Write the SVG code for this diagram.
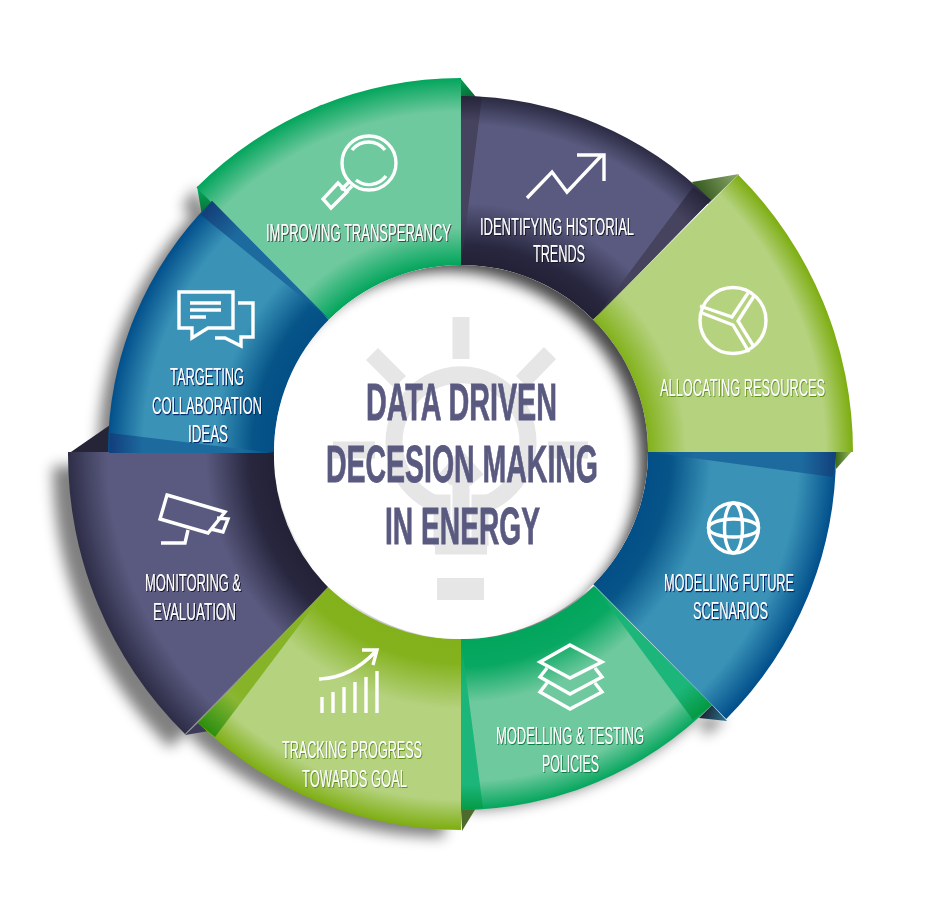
<svg xmlns="http://www.w3.org/2000/svg" width="929" height="920" viewBox="0 0 929 920">
<style>
.lb{font-family:"Liberation Sans Narrow","Liberation Sans",Arial,sans-serif;font-size:23.5px;fill:#fff}
.tt{font-family:"Liberation Sans Narrow","Liberation Sans",Arial,sans-serif;font-size:52px;font-weight:700;fill:#5a5a80;stroke:#5a5a80;stroke-width:.8}
.ic{fill:none;stroke:#fff;stroke-width:3.4;stroke-linejoin:miter}
.bulb{fill:none;stroke:#e6e6e6;stroke-width:17}
</style>
<defs>
<filter id="blur" x="-30%" y="-30%" width="160%" height="160%"><feGaussianBlur stdDeviation="7"/></filter>
<filter id="blur2" x="-30%" y="-30%" width="160%" height="160%"><feGaussianBlur stdDeviation="7"/></filter>
<filter id="sd" x="-15%" y="-30%" width="130%" height="160%"><feDropShadow dx="1" dy="1" stdDeviation=".3" flood-color="#14142a"/></filter>
<filter id="sb" x="-15%" y="-30%" width="130%" height="160%"><feDropShadow dx="1" dy="1.2" stdDeviation=".3" flood-color="#00256a"/></filter>
<filter id="sg" x="-15%" y="-30%" width="130%" height="160%"><feDropShadow dx=".8" dy="1" stdDeviation=".3" flood-color="#0b7a45"/></filter>
<filter id="sl" x="-15%" y="-30%" width="130%" height="160%"><feDropShadow dx=".8" dy="1" stdDeviation=".3" flood-color="#62901a"/></filter>
<filter id="sm" x="-15%" y="-30%" width="130%" height="160%"><feDropShadow dx="1" dy="1" stdDeviation=".3" flood-color="#3c4a44"/></filter>
<clipPath id="cc"><circle cx="461" cy="452" r="187"/></clipPath>
<radialGradient id="g1" gradientUnits="userSpaceOnUse" cx="461" cy="452" r="374"><stop offset=".5" stop-color="#02a55c"/><stop offset=".6" stop-color="#6fc99e"/><stop offset=".91" stop-color="#6fc99e"/><stop offset="1" stop-color="#02a55c"/></radialGradient>
<radialGradient id="g5" gradientUnits="userSpaceOnUse" cx="461" cy="452" r="358"><stop offset=".52" stop-color="#02a55c"/><stop offset=".6" stop-color="#08a862"/><stop offset=".7" stop-color="#6fc99e"/><stop offset=".92" stop-color="#6fc99e"/><stop offset="1" stop-color="#02a55c"/></radialGradient>
<radialGradient id="g2" gradientUnits="userSpaceOnUse" cx="461" cy="452" r="356"><stop offset=".525" stop-color="#222136"/><stop offset=".58" stop-color="#28273f"/><stop offset=".7" stop-color="#5a5a80"/><stop offset=".92" stop-color="#5a5a80"/><stop offset="1" stop-color="#2a2a42"/></radialGradient>
<radialGradient id="g7" gradientUnits="userSpaceOnUse" cx="461" cy="452" r="393"><stop offset=".475" stop-color="#222136"/><stop offset=".54" stop-color="#28273f"/><stop offset=".65" stop-color="#5a5a80"/><stop offset=".9" stop-color="#5a5a80"/><stop offset="1" stop-color="#2e2e48"/></radialGradient>
<radialGradient id="g3" gradientUnits="userSpaceOnUse" cx="461" cy="452" r="392"><stop offset=".477" stop-color="#82b11b"/><stop offset=".575" stop-color="#b5d27f"/><stop offset=".93" stop-color="#b5d27f"/><stop offset="1" stop-color="#7dad10"/></radialGradient>
<radialGradient id="g6" gradientUnits="userSpaceOnUse" cx="461" cy="452" r="378"><stop offset=".5" stop-color="#82b11b"/><stop offset=".56" stop-color="#84b21e"/><stop offset=".68" stop-color="#b5d27f"/><stop offset=".92" stop-color="#b5d27f"/><stop offset="1" stop-color="#7dad10"/></radialGradient>
<radialGradient id="g4" gradientUnits="userSpaceOnUse" cx="461" cy="452" r="375"><stop offset=".5" stop-color="#034f87"/><stop offset=".56" stop-color="#065488"/><stop offset=".67" stop-color="#3a93b7"/><stop offset=".9" stop-color="#3a93b7"/><stop offset="1" stop-color="#02508c"/></radialGradient>
<radialGradient id="g8" gradientUnits="userSpaceOnUse" cx="461" cy="452" r="353"><stop offset=".53" stop-color="#034f87"/><stop offset=".59" stop-color="#065488"/><stop offset=".7" stop-color="#3a93b7"/><stop offset=".9" stop-color="#3a93b7"/><stop offset="1" stop-color="#02508c"/></radialGradient>
<linearGradient id="b6" gradientUnits="userSpaceOnUse" x1="205" y1="729" x2="240" y2="690"><stop offset="0" stop-color="#2b8e10"/><stop offset=".8" stop-color="#8ab634"/><stop offset="1" stop-color="#86b327"/></linearGradient>
<linearGradient id="b4" gradientUnits="userSpaceOnUse" x1="648" y1="0" x2="836" y2="0"><stop offset="0" stop-color="#034f87"/><stop offset=".25" stop-color="#1c6a9e"/><stop offset=".82" stop-color="#1c6a9e"/><stop offset="1" stop-color="#123f7c"/></linearGradient>
<linearGradient id="b8a" gradientUnits="userSpaceOnUse" x1="110" y1="0" x2="275" y2="0"><stop offset="0" stop-color="#123f7c"/><stop offset=".2" stop-color="#1c6a9e"/><stop offset=".8" stop-color="#1c6a9e"/><stop offset="1" stop-color="#034f87"/></linearGradient>
<linearGradient id="b8b" gradientUnits="userSpaceOnUse" x1="207" y1="207" x2="328" y2="318"><stop offset="0" stop-color="#143e78"/><stop offset=".25" stop-color="#1c6a9e"/><stop offset=".75" stop-color="#1c6a9e"/><stop offset="1" stop-color="#034f87"/></linearGradient>
<linearGradient id="b5" gradientUnits="userSpaceOnUse" x1="595" y1="586" x2="705" y2="712"><stop offset="0" stop-color="#02a55c"/><stop offset=".3" stop-color="#1cb67a"/><stop offset=".8" stop-color="#1cb67a"/><stop offset="1" stop-color="#03973f"/></linearGradient>
<linearGradient id="b5b" gradientUnits="userSpaceOnUse" x1="0" y1="639" x2="0" y2="810"><stop offset="0" stop-color="#02a55c"/><stop offset=".3" stop-color="#1cb67a"/><stop offset=".85" stop-color="#1cb67a"/><stop offset="1" stop-color="#049a45"/></linearGradient>
<linearGradient id="b2" gradientUnits="userSpaceOnUse" x1="594" y1="320" x2="703" y2="194"><stop offset="0" stop-color="#242338"/><stop offset=".3" stop-color="#46435f"/><stop offset=".8" stop-color="#46435f"/><stop offset="1" stop-color="#25243a"/></linearGradient>
<linearGradient id="b2b" gradientUnits="userSpaceOnUse" x1="0" y1="265" x2="0" y2="96"><stop offset="0" stop-color="#242338"/><stop offset=".3" stop-color="#46435f"/><stop offset=".85" stop-color="#46435f"/><stop offset="1" stop-color="#25243a"/></linearGradient>
<linearGradient id="f1" gradientUnits="userSpaceOnUse" x1="700" y1="196" x2="738" y2="174"><stop offset="0" stop-color="#35591f"/><stop offset="1" stop-color="#8ba86a"/></linearGradient>
<linearGradient id="f2" gradientUnits="userSpaceOnUse" x1="205" y1="190" x2="205" y2="214"><stop offset="0" stop-color="#02a55c"/><stop offset="1" stop-color="#0c6d30"/></linearGradient>
<linearGradient id="f3" gradientUnits="userSpaceOnUse" x1="836" y1="452" x2="850" y2="452"><stop offset="0" stop-color="#3f6b1d"/><stop offset="1" stop-color="#8aae55"/></linearGradient>
<linearGradient id="f4" gradientUnits="userSpaceOnUse" x1="705" y1="712" x2="725" y2="720"><stop offset="0" stop-color="#1c2c3a"/><stop offset="1" stop-color="#2c6f8e"/></linearGradient>
<linearGradient id="f5" gradientUnits="userSpaceOnUse" x1="462" y1="82" x2="470" y2="96"><stop offset="0" stop-color="#049a4e"/><stop offset="1" stop-color="#0a6e3a"/></linearGradient>
</defs>

<g id="shadows" filter="url(#blur)" fill="#000" opacity=".5">
<path transform="translate(-15,14)" d="M68,452 A393,393 0 0 0 185,734 L328,587 L274,452 Z"/>
<path transform="translate(-11,11)" d="M455,826 A378,378 0 0 1 198,723 L328,587 L461,639 Z"/>
<path transform="translate(-3,6)" d="M700,712 A358,358 0 0 1 470,804 L461,639 L593,584 Z"/>
<path transform="translate(-10,4)" d="M212,201 A353,353 0 0 0 108,452 L274,452 L329,320 Z"/>
<path d="M197,187 L182,207 L212,232 Z"/>
<path d="M700,717 L726,718 L705,736 Z"/>
</g>

<g id="folds">
<polygon points="461,79 476,97 461,97" fill="url(#f5)"/>
<polygon points="692,182 739,174 708,204" fill="url(#f1)"/>
<polygon points="835,450 853,450 836,469" fill="url(#f3)"/>
<polygon points="699,718 712,705 727,721" fill="url(#f4)"/>
<polygon points="461,808 476,808 462,831" fill="#4e6b2e"/>
<polygon points="185,735 200,721 209,731" fill="#3c3a58"/>
<polygon points="68,454 110,425 112,454" fill="#262538"/>
<polygon points="197,186 214,203 202,216" fill="url(#f2)"/>
</g>

<g id="seg-improving"><path d="M461,78 A374,374 0 0 0 196.500,187.500 L328.800,319.800 A187,187 0 0 1 461,265 Z" fill="url(#g1)"/></g>
<g id="seg-identifying">
<path d="M461,96 A356,356 0 0 1 711,200.300 L593.200,319.800 A187,187 0 0 0 461,265 Z" fill="url(#g2)"/>
<polygon points="461,265 482,97 461,96" fill="url(#b2b)"/>
<polygon points="594,320 693,187 711,200" fill="url(#b2)"/>
</g>
<g id="seg-allocating"><path d="M738.200,174.800 A392,392 0 0 1 853,452 L648,452 A187,187 0 0 0 593.200,319.800 Z" fill="url(#g3)"/></g>
<g id="seg-future">
<path d="M836,452 A375,375 0 0 1 726.200,719 L593.200,584.200 A187,187 0 0 0 648,452 Z" fill="url(#g4)"/>
<polygon points="648,452 836,452 833,477" fill="url(#b4)"/>
</g>
<g id="seg-testing">
<path d="M712,705.100 A358,358 0 0 1 461,810 L461,639 A187,187 0 0 0 594,586 Z" fill="url(#g5)"/>
<polygon points="594,586 712,705 693,720" fill="url(#b5)"/>
<polygon points="461,639 483,808 461,810" fill="url(#b5b)"/>
</g>
<g id="seg-tracking">
<path d="M461,830 A378,378 0 0 1 198,723 L328,587 A187,187 0 0 0 461,639 Z" fill="url(#g6)"/>
<polygon points="328,587 198,723 215,737" fill="url(#b6)"/>
</g>
<g id="seg-monitoring"><path d="M68,452 A393,393 0 0 0 185,734 L328,587 A187,187 0 0 1 274,452 Z" fill="url(#g7)"/></g>
<g id="seg-targeting">
<path d="M212,201 A353,353 0 0 0 108,452 L274,452 A187,187 0 0 1 329,320 Z" fill="url(#g8)"/>
<polygon points="110,433 275,453 109,453" fill="url(#b8a)"/>
<polygon points="329,319 212,201 201,215" fill="url(#b8b)"/>
</g>

<g id="centre">
<circle cx="461" cy="452" r="187" fill="#fff"/>
<g id="bulb">
<path class="bulb" d="M461,317V359 M372,354L400,382 M550,353L522,382 M333,450H375 M548,450H588"/>
<path class="bulb" d="M436,504 A67,67 0 1 1 486,504"/>
<path class="bulb" d="M461,458V546 M435,546H487 M429,503H442V546 M493,503H480V546"/>
<path class="bulb" d="M445,480L461,462L477,480" stroke-width="12"/>
<rect x="437" y="578" width="47" height="22" fill="#e6e6e6"/>
</g>
<g clip-path="url(#cc)"><path fill-rule="evenodd" d="M200,200H720V700H200Z M255,463 a192,192 0 1 0 384,0 a192,192 0 1 0 -384,0 Z" fill="#000" opacity=".72" filter="url(#blur2)"/></g>
<text class="tt" x="366" y="420" textLength="191" lengthAdjust="spacingAndGlyphs">DATA DRIVEN</text>
<text class="tt" x="326" y="482" textLength="272" lengthAdjust="spacingAndGlyphs">DECESION MAKING</text>
<text class="tt" x="385" y="544" textLength="155" lengthAdjust="spacingAndGlyphs">IN ENERGY</text>
</g>

<g id="node-improving">
<circle class="ic" cx="369" cy="163" r="27"/>
<path class="ic" stroke-width="1.800" d="M352,150A21,21 0 0 1 385,150 M386,176A21,21 0 0 1 356,180"/>
<path class="ic" d="M349,182L341,190 M352,186L345,193 M338,183L323,199L331,208L347,192Z"/>
<text class="lb" filter="url(#sm)" x="266" y="241" textLength="185" lengthAdjust="spacingAndGlyphs">IMPROVING TRANSPERANCY</text>
</g>
<g id="node-identifying">
<path class="ic" stroke-width="4.500" d="M527,198L552,172L567,192L602,155 M577,155H604V181"/>
<text class="lb" filter="url(#sd)" x="480" y="235" textLength="154" lengthAdjust="spacingAndGlyphs">IDENTIFYING HISTORIAL</text>
<text class="lb" filter="url(#sd)" x="533" y="262" textLength="52" lengthAdjust="spacingAndGlyphs">TRENDS</text>
</g>
<g id="node-allocating">
<circle class="ic" cx="733" cy="320.500" r="33"/>
<path class="ic" stroke-width="2.800" d="M700,306L732,317L748,293 M754,296L738,321L754,347 M702,313L733,325L749,352"/>
<text class="lb" filter="url(#sl)" x="660" y="396" textLength="165" lengthAdjust="spacingAndGlyphs">ALLOCATING RESOURCES</text>
</g>
<g id="node-future">
<circle class="ic" cx="733.500" cy="528" r="25"/>
<ellipse class="ic" stroke-width="2" cx="733.500" cy="528" rx="9" ry="25"/>
<ellipse class="ic" stroke-width="2" cx="733.500" cy="528" rx="25" ry="9"/>
<text class="lb" filter="url(#sb)" x="664" y="591" textLength="130" lengthAdjust="spacingAndGlyphs">MODELLING FUTURE</text>
<text class="lb" filter="url(#sb)" x="693" y="619" textLength="75" lengthAdjust="spacingAndGlyphs">SCENARIOS</text>
</g>
<g id="node-testing">
<path class="ic" d="M570,645L602,662L570,678L540,662Z M547,668L540,677L570,694L602,677L595,668 M547,683L540,692L570,709L602,692L595,683"/>
<text class="lb" filter="url(#sg)" x="496" y="744" textLength="148" lengthAdjust="spacingAndGlyphs">MODELLING &amp; TESTING</text>
<text class="lb" filter="url(#sg)" x="542" y="772" textLength="57" lengthAdjust="spacingAndGlyphs">POLICIES</text>
</g>
<g id="node-tracking">
<path class="ic" stroke-width="4" d="M322,713V697 M333,713V692 M344,713V687 M355,713V682 M366,713V677 M377,713V671"/>
<path class="ic" stroke-width="3.200" d="M319,679Q351,678 376,651 M362,650H377L373,665"/>
<text class="lb" filter="url(#sl)" x="282" y="758" textLength="140" lengthAdjust="spacingAndGlyphs">TRACKING PROGRESS</text>
<text class="lb" filter="url(#sl)" x="302" y="787" textLength="105" lengthAdjust="spacingAndGlyphs">TOWARDS GOAL</text>
</g>
<g id="node-monitoring">
<path class="ic" d="M167,495L225,512L208,533L160,519Z M217,518L228,519L223,532L211,529 M188,530L185,543H161"/>
<text class="lb" filter="url(#sd)" x="145" y="591" textLength="96" lengthAdjust="spacingAndGlyphs">MONITORING &amp;</text>
<text class="lb" filter="url(#sd)" x="153" y="620" textLength="83" lengthAdjust="spacingAndGlyphs">EVALUATION</text>
</g>
<g id="node-targeting">
<path class="ic" d="M179,292H233V328H208L192,338V328H179Z M238,303H253V337H241V346L225,338H215"/>
<path class="ic" d="M190,303H221 M190,310H221 M190,317H206"/>
<text class="lb" filter="url(#sb)" x="170" y="385" textLength="74" lengthAdjust="spacingAndGlyphs">TARGETING</text>
<text class="lb" filter="url(#sb)" x="152" y="414" textLength="110" lengthAdjust="spacingAndGlyphs">COLLABORATION</text>
<text class="lb" filter="url(#sb)" x="188" y="442" textLength="40" lengthAdjust="spacingAndGlyphs">IDEAS</text>
</g>
</svg>
